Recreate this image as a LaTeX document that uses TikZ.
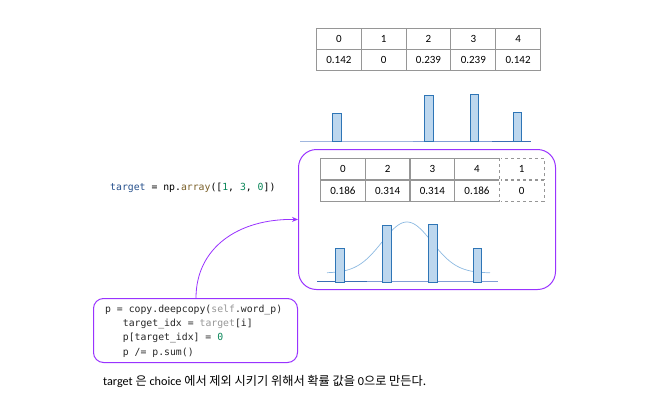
\documentclass[tikz,border=0pt]{standalone}
\usepackage{fontspec}
\setmainfont{Carlito}
\newfontfamily\krfont{Noto Sans CJK KR}
\newfontfamily\codefont{DejaVu Sans Mono}
\usetikzlibrary{arrows.meta}
\definecolor{gridc}{RGB}{150,150,150}
\definecolor{barfill}{RGB}{189,215,238}
\definecolor{barline}{RGB}{46,117,182}
\definecolor{purp}{RGB}{153,51,255}
\definecolor{codeblue}{RGB}{38,80,140}
\definecolor{codebrown}{RGB}{121,94,38}
\definecolor{codegreen}{RGB}{9,134,88}
\definecolor{codegray}{RGB}{150,150,150}
\definecolor{curvec}{RGB}{140,185,225}
\definecolor{baseA}{RGB}{160,182,222}
\definecolor{baseB}{RGB}{128,158,214}
\definecolor{baseC}{RGB}{58,110,180}
\begin{document}
\begin{tikzpicture}[x=1pt,y=-1pt,
  cell/.style={draw=gridc, line width=1pt, minimum width=44.8pt, minimum height=21pt,
    inner sep=0pt, anchor=north west, font=\fontsize{11}{13}\selectfont},
  dcell/.style={cell, dashed},
  bar/.style={draw=barline, fill=barfill, line width=1pt},
  purpbox/.style={draw=purp, line width=1pt},
  code/.style={font=\codefont\fontsize{9.8}{14.3}\selectfont}
]
\useasboundingbox (0,0) rectangle (646,410);

% top table
\node[cell] (a1) at (316,28) {0};
\node[cell] (a2) at (360.8,28) {1};
\node[cell] (a3) at (405.6,28) {2};
\node[cell] (a4) at (450.4,28) {3};
\node[cell] (a5) at (495.2,28) {4};
\node[cell] (b1) at (316,49) {0.142};
\node[cell] (b2) at (360.8,49) {0};
\node[cell] (b3) at (405.6,49) {0.239};
\node[cell] (b4) at (450.4,49) {0.239};
\node[cell] (b5) at (495.2,49) {0.142};

% top bars
\draw[baseA, line width=1.5pt] (300,141.5) -- (413,141.5);
\draw[baseB, line width=1.5pt] (413,141.5) -- (492,141.5);
\draw[baseC, line width=1.5pt] (492,141.5) -- (531,141.5);
\draw[bar] (332,141) rectangle (341,113);
\draw[bar] (424,141) rectangle (433,95);
\draw[bar] (470,141) rectangle (478,94);
\draw[bar] (513,141) rectangle (521,112);

% purple box
\node[purpbox, rounded corners=18pt, minimum width=257pt, minimum height=140pt,
  anchor=north west, inner sep=0pt] (pbox) at (298,149) {};

% inner table
\node[cell] (c1) at (320,158) {0};
\node[cell] (c2) at (364.7,158) {2};
\node[cell] (c3) at (409.4,158) {3};
\node[cell] (c4) at (454.1,158) {4};
\node[dcell] (c5) at (498.8,158) {1};
\node[cell] (d1) at (320,179.5) {0.186};
\node[cell] (d2) at (364.7,179.5) {0.314};
\node[cell] (d3) at (409.4,179.5) {0.314};
\node[cell] (d4) at (454.1,179.5) {0.186};
\node[dcell] (d5) at (498.8,179.5) {0};
\draw[white, line width=1.4pt] (c4.north east) -- (d4.south east);
\draw[gridc, line width=1pt, dashed] (c4.north east) -- (d4.south east);

% gaussian and inner bars
\draw[curvec, line width=0.7pt] plot[domain=327:490, samples=90]
  (\x, {273-51*exp(-((\x-407)*(\x-407))/1250)});
\draw[baseC, line width=1.5pt] (317,281.5) -- (367,281.5);
\draw[baseB, line width=1.5pt] (367,281.5) -- (498,281.5);
\draw[bar] (335,282) rectangle (344,248);
\draw[bar] (382,282) rectangle (391,225);
\draw[bar] (428,282) rectangle (437,224);
\draw[bar] (473,282) rectangle (481,248);

% target text
\node[code, anchor=west, inner sep=0pt] (tgt) at (110,188)
  {{\color{codeblue}target} = np.{\color{codebrown}array}([{\color{codegreen}1}, {\color{codegreen}3}, {\color{codegreen}0}])};

% code box
\node[purpbox, rounded corners=10pt, anchor=north west, minimum width=204pt,
  minimum height=64pt, inner sep=0pt] (codebox) at (93,298) {};
\node[code, anchor=north west, inner sep=0pt, align=left, text=black!85] (codetext)
  at (105,304.5)
  {\spaceskip=0pt\xspaceskip=0pt p = copy.deepcopy({\color{codegray}self}.word\_p)\\
   \spaceskip=0pt\xspaceskip=0pt\phantom{xxx}target\_idx = {\color{codegray}target}[i]\\
   \spaceskip=0pt\xspaceskip=0pt\phantom{xxx}p[target\_idx] = {\color{codegreen}0}\\
   \spaceskip=0pt\xspaceskip=0pt\phantom{xxx}p /= p.sum()};

% arrow
\draw[purp, line width=0.8pt, -{Stealth[length=6pt,width=5pt]}]
  ([xshift=103pt]codebox.north west) .. controls +(0,-50) and +(-60,-1) .. (pbox.west);

% note
\node[anchor=west, inner sep=0pt, font=\fontsize{12.2}{14}\selectfont] (note) at (103,381)
  {target {\krfont 은} choice {\krfont 에서 제외 시키기 위해서 확률 값을} 0{\krfont 으로 만든다.}};
\end{tikzpicture}
\end{document}
